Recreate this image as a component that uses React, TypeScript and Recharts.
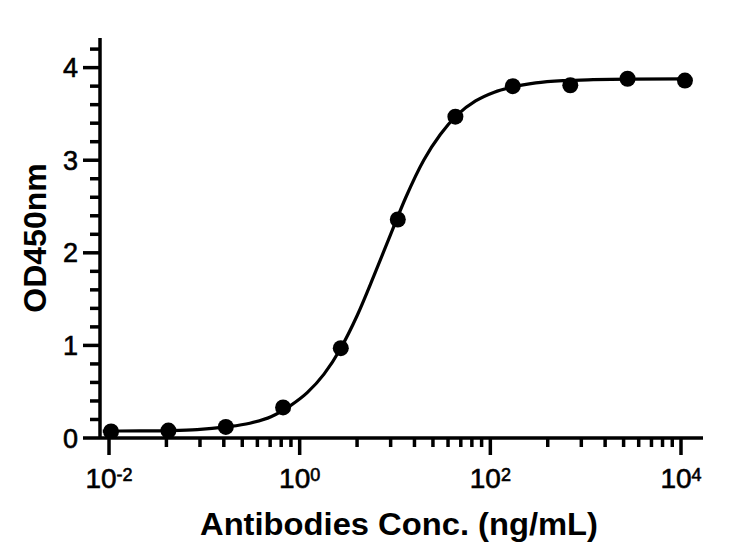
import React from 'react';
import { ComposedChart, Line, Scatter, XAxis, YAxis } from 'recharts';

// measured points (ng/mL, OD450)
const concentrations = [0.0105, 0.042, 0.168, 0.67, 2.7, 10.7, 43, 172, 690, 2750, 11000];
const odValues = [0.07, 0.08, 0.12, 0.33, 0.97, 2.36, 3.47, 3.8, 3.81, 3.88, 3.86];

// fitted curve
const curveConc = [0.0086, 0.021, 0.042, 0.084, 0.17, 0.3, 0.5, 0.8, 1.2, 1.8, 2.7, 4, 6, 9, 13, 20, 30, 45, 70, 110, 170, 300, 600, 1200, 3000, 11000];
const curveOd = [0.075, 0.077, 0.08, 0.09, 0.12, 0.16, 0.23, 0.35, 0.49, 0.69, 0.97, 1.32, 1.75, 2.2, 2.6, 3.0, 3.28, 3.49, 3.64, 3.735, 3.79, 3.835, 3.86, 3.87, 3.876, 3.878];

// axis ticks
const xMajorTicks = [0.01, 1, 100, 10000];
const xMajorExponents = ['-2', '0', '2', '4'];
const xMinorTicks = [0.04, 0.09, 0.16, 0.25, 0.36, 0.49, 0.64, 0.81, 4, 9, 16, 25, 36, 49, 64, 81, 400, 900, 1600, 2500, 3600, 4900, 6400, 8100];
const yTicks = [0, 0.2, 0.4, 0.6, 0.8, 1, 1.2, 1.4, 1.6, 1.8, 2, 2.2, 2.4, 2.6, 2.8, 3, 3.2, 3.4, 3.6, 3.8, 4, 4.2];

const xTitle = 'Antibodies Conc. (ng/mL)';
const yTitle = 'OD450nm';

const points = concentrations.map((c, i) => ({ conc: c, od: odValues[i] }));
const curve = curveConc.map((c, i) => ({ conc: c, od: curveOd[i] }));

const FONT = '"Liberation Sans", Arial, Helvetica, sans-serif';
const PLOT_LEFT = 100;
const PLOT_BOTTOM = 438;

const YTick = (props: any) => {
  const { y, payload } = props;
  const v = payload.value;
  const major = Math.abs(v - Math.round(v)) < 1e-6;
  return (
    <g>
      <line x1={PLOT_LEFT - (major ? 17 : 10)} x2={PLOT_LEFT} y1={y} y2={y} stroke="#000" strokeWidth={3.5} />
      {major && (
        <text x={78} y={y + 9.5} textAnchor="end" fontFamily={FONT} fontSize={27} fill="#000" stroke="#000" strokeWidth={0.6}>
          {Math.round(v)}
        </text>
      )}
    </g>
  );
};

const XTick = (props: any) => {
  const { x, payload } = props;
  const idx = xMajorTicks.indexOf(payload.value);
  const major = idx >= 0;
  return (
    <g>
      <line x1={x} x2={x} y1={PLOT_BOTTOM} y2={PLOT_BOTTOM + (major ? 17 : 9)} stroke="#000" strokeWidth={3.5} />
      {major && (
        <text x={x} y={488} textAnchor="middle" fontFamily={FONT} fontSize={28} fill="#000" stroke="#000" strokeWidth={0.6}>
          <tspan>10</tspan>
          <tspan fontSize={18} dy={-7}>{xMajorExponents[idx]}</tspan>
        </text>
      )}
    </g>
  );
};

const XTitle = () => (
  <text x={399} y={535} textAnchor="middle" fontFamily={FONT} fontSize={32} fontWeight="bold" fill="#000" textLength={398} lengthAdjust="spacingAndGlyphs">
    {xTitle}
  </text>
);

const YTitle = () => (
  <text x={46} y={238} transform="rotate(-90 46 238)" textAnchor="middle" fontFamily={FONT} fontSize={32} fontWeight="bold" fill="#000">
    {yTitle}
  </text>
);

const Dot = (props: any) => <circle cx={props.cx} cy={props.cy} r={8} fill="#000" />;

export default function App() {
  return (
    <div style={{ position: 'absolute', left: 0, top: 0, width: 729, height: 555, background: '#fff' }}>
      <ComposedChart width={729} height={555} margin={{ top: 38, right: 26, left: 0, bottom: 0 }}>
        <XAxis
          dataKey="conc"
          type="number"
          scale="log"
          domain={[0.008044, 17014]}
          allowDataOverflow
          ticks={[...xMajorTicks, ...xMinorTicks]}
          interval={0}
          height={117}
          tick={XTick}
          tickLine={false}
          axisLine={{ stroke: '#000', strokeWidth: 3.5 }}
          label={<XTitle />}
        />
        <YAxis
          dataKey="od"
          type="number"
          domain={[0, 4.32]}
          allowDataOverflow
          ticks={yTicks}
          interval={0}
          width={100}
          tick={YTick}
          tickLine={false}
          axisLine={{ stroke: '#000', strokeWidth: 3.5 }}
          label={<YTitle />}
        />
        <Line data={curve} dataKey="od" type="monotone" stroke="#000" strokeWidth={3.2} dot={false} isAnimationActive={false} />
        <Scatter data={points} dataKey="od" shape={Dot} fill="#000" isAnimationActive={false} />
      </ComposedChart>
    </div>
  );
}
